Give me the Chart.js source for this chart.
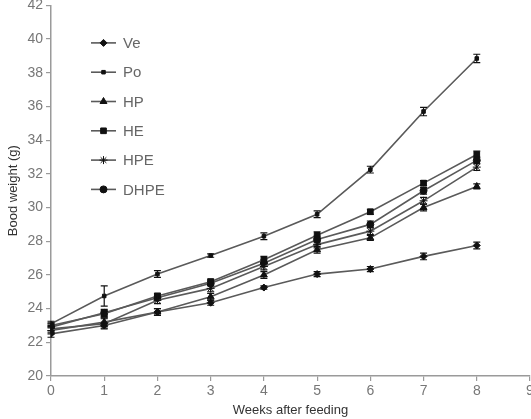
<!DOCTYPE html>
<html>
<head>
<meta charset="utf-8">
<script src="https://cdn.jsdelivr.net/npm/chart.js@4/dist/chart.umd.min.js"></script>
<style>
  html, body { margin: 0; padding: 0; background: #fff; overflow: hidden; }
  #wrap { position: absolute; left: 0; top: -6px; width: 538px; height: 425px; }
</style>
</head>
<body>
<div id="wrap"><canvas id="bw" width="538" height="425"></canvas></div>
<script>
// weeks after feeding
var weeks = [0, 1, 2, 3, 4, 5, 6, 7, 8];

// body weight (g)
var ve   = [22.5, 23.0, 23.8, 24.35, 25.25, 26.05, 26.35, 27.1, 27.75];
var po   = [23.1, 24.75, 26.05, 27.15, 28.3, 29.6, 32.25, 35.7, 38.85];
var hp   = [22.7, 23.2, 23.8, 24.7, 26.0, 27.5, 28.2, 30.0, 31.25];
var he   = [23.0, 23.7, 24.75, 25.6, 26.9, 28.35, 29.75, 31.45, 33.15];
var hpe  = [22.8, 23.1, 24.5, 25.2, 26.5, 27.8, 28.6, 30.4, 32.4];
var dhpe = [22.9, 23.75, 24.65, 25.5, 26.7, 28.1, 29.0, 31.0, 32.8];

// error bars (+/-)
var veErr   = [0.2, 0.15, 0.2, 0.15, 0.1, 0.15, 0.15, 0.2, 0.2];
var poErr   = [0.15, 0.6, 0.2, 0.1, 0.2, 0.2, 0.2, 0.25, 0.25];
var hpErr   = [0.2, 0.25, 0.2, 0.2, 0.2, 0.2, 0.15, 0.2, 0.15];
var heErr   = [0.15, 0.2, 0.15, 0.15, 0.2, 0.2, 0.15, 0.15, 0.2];
var hpeErr  = [0.2, 0.3, 0.2, 0.2, 0.2, 0.2, 0.2, 0.2, 0.2];
var dhpeErr = [0.2, 0.2, 0.15, 0.15, 0.2, 0.2, 0.2, 0.2, 0.2];

var yTicks = [20, 22, 24, 26, 28, 30, 32, 34, 36, 38, 40, 42];

var FONT = '"Liberation Sans", Arial, sans-serif';

function pts(arr) {
  return arr.map(function(v, i) { return { x: weeks[i], y: v }; });
}

function ds(label, arr, err, style, r) {
  return {
    label: label,
    data: pts(arr),
    errors: err,
    borderColor: '#5a5a5a',
    borderWidth: 1.6,
    backgroundColor: '#111',
    pointBorderColor: '#111',
    pointBackgroundColor: '#111',
    pointStyle: style,
    pointRadius: r,
    pointBorderWidth: 1,
    tension: 0,
    fill: false
  };
}

var errorBars = {
  id: 'errorBars',
  afterDatasetsDraw: function(chart) {
    var ctx = chart.ctx, ys = chart.scales.y, xs = chart.scales.x;
    ctx.save();
    ctx.strokeStyle = '#111';
    ctx.lineWidth = 1.2;
    chart.data.datasets.forEach(function(d) {
      d.data.forEach(function(p, i) {
        var x = xs.getPixelForValue(p.x);
        var top = ys.getPixelForValue(p.y + d.errors[i]);
        var bot = ys.getPixelForValue(p.y - d.errors[i]);
        ctx.beginPath();
        ctx.moveTo(x, top); ctx.lineTo(x, bot);
        ctx.moveTo(x - 3.5, top); ctx.lineTo(x + 3.5, top);
        ctx.moveTo(x - 3.5, bot); ctx.lineTo(x + 3.5, bot);
        ctx.stroke();
      });
    });
    ctx.restore();
  }
};

var innerLegend = {
  id: 'innerLegend',
  afterDraw: function(chart) {
    var ctx = chart.ctx;
    var x0 = chart.chartArea.left + 40, y0 = chart.chartArea.top + 37.5, gap = 29.3;
    ctx.save();
    chart.data.datasets.forEach(function(d, i) {
      var y = y0 + i * gap;
      ctx.strokeStyle = '#5a5a5a';
      ctx.lineWidth = 1.6;
      ctx.beginPath();
      ctx.moveTo(x0, y); ctx.lineTo(x0 + 25, y);
      ctx.stroke();
      ctx.fillStyle = '#111';
      ctx.strokeStyle = '#111';
      ctx.lineWidth = 1;
      Chart.helpers.drawPoint(ctx, { pointStyle: d.pointStyle, radius: d.pointRadius, rotation: 0, borderWidth: 1 }, x0 + 12.5, y);
      ctx.fillStyle = '#666';
      ctx.font = '15px ' + FONT;
      ctx.textBaseline = 'middle';
      ctx.fillText(d.label, x0 + 32, y + 1);
    });
    ctx.restore();
  }
};

new Chart(document.getElementById('bw').getContext('2d'), {
  type: 'line',
  data: {
    datasets: [
      ds('Ve', ve, veErr, 'rectRot', 3.5),
      ds('Po', po, poErr, 'rect', 2.5),
      ds('HP', hp, hpErr, 'triangle', 4),
      ds('HE', he, heErr, 'rect', 4),
      ds('HPE', hpe, hpeErr, 'star', 4),
      ds('DHPE', dhpe, dhpeErr, 'circle', 3.5)
    ]
  },
  options: {
    responsive: false,
    animation: false,
    layout: { padding: { left: 0, right: 8, top: 0, bottom: 0 } },
    plugins: { legend: { display: false }, tooltip: { enabled: false } },
    scales: {
      x: {
        type: 'linear', min: 0, max: 9,
        afterFit: function(s) { s.height = 43; },
        grid: { drawOnChartArea: false, tickLength: 5, color: '#9a9a9a', lineWidth: 1.2 },
        border: { color: '#9a9a9a', width: 1.5 },
        ticks: { stepSize: 1, color: '#777', padding: 2, font: { size: 14, family: FONT } },
        title: { display: true, text: 'Weeks after feeding', color: '#333', padding: { top: 0, bottom: 1 }, font: { size: 13, family: FONT } }
      },
      y: {
        type: 'linear', min: 20, max: 42,
        afterFit: function(s) { s.width = 51; },
        afterBuildTicks: function(s) { s.ticks = yTicks.map(function(v) { return { value: v }; }); },
        grid: { drawOnChartArea: false, tickLength: 5, color: '#9a9a9a', lineWidth: 1.2 },
        border: { color: '#9a9a9a', width: 1.5 },
        ticks: { color: '#777', padding: 3, font: { size: 14, family: FONT } },
        title: { display: true, text: 'Bood weight (g)', color: '#333', padding: { top: 6, bottom: 0 }, font: { size: 13, family: FONT } }
      }
    }
  },
  plugins: [errorBars, innerLegend]
});
</script>
</body>
</html>
